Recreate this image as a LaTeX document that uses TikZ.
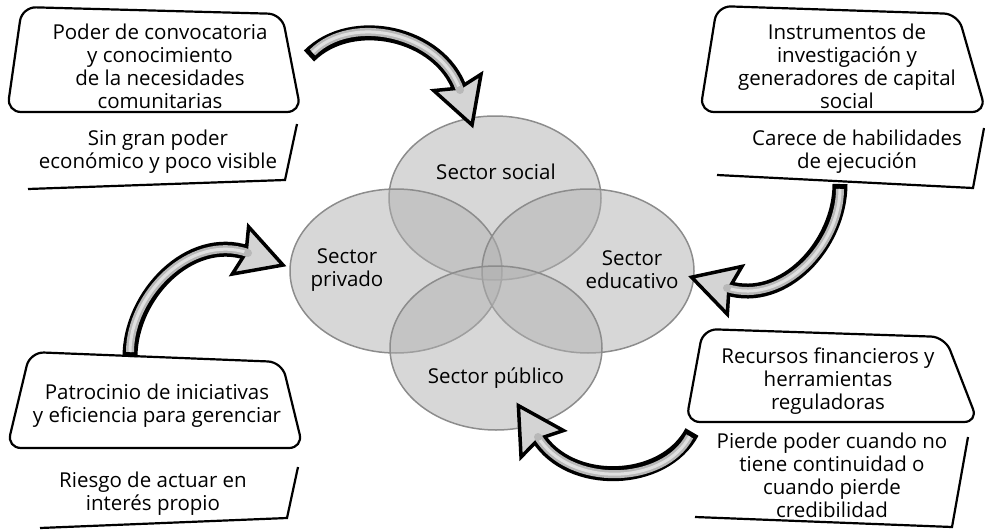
\documentclass[tikz,border=0pt]{standalone}
\usepackage{fontspec}
\setmainfont{Open Sans}
\usetikzlibrary{shapes.geometric}

% fat curved arrow: tail, out angle, in angle, end point, head direction
\newcommand\bigarrow[5]{%
  \draw[shaft] (#1) to[out=#2,in=#3] (#4);
  \begin{scope}[shift={(#4)},rotate=#5]
    \filldraw[arrowhead] (-8,25) -- (37,0) -- (-8,-25) -- (-2,0) -- cycle;
  \end{scope}
  \draw[shaft fill] (#1) to[out=#2,in=#3] (#4);
  \draw[shaft core] (#1) to[out=#2,in=#3] (#4);
  \fill[knob] (#4) circle (4);
}

\begin{document}
\begin{tikzpicture}[
  x=1pt, y=1pt,
  sector/.style = {ellipse, draw=black!45, line width=1.5pt, fill=black!31,
                   fill opacity=0.5, minimum width=212pt, minimum height=164pt},
  txt/.style = {align=center, inner sep=0pt, font=\fontsize{20.5}{23}\selectfont},
  tab/.style = {draw, line width=2.2pt, rounded corners=14pt},
  rule/.style = {draw, line width=2.2pt},
  shaft/.style = {line width=15pt, black},
  shaft fill/.style = {line width=8pt, black!28, shorten <=5pt},
  shaft core/.style = {line width=3pt, black!12, shorten <=5pt},
  arrowhead/.style = {fill=black!17, draw=black, line width=3.5pt},
  knob/.style = {fill=black!28},
  ]
  \useasboundingbox (0,0) rectangle (985,-530);

  % the four sectors
  \node[sector] (social)    at (495,-198) {};
  \node[sector] (privado)   at (396,-271) {};
  \node[sector] (educativo) at (588,-271) {};
  \node[sector] (publico)   at (496,-348) {};

  \node[txt] (tsocial)    at (496,-172) {Sector social};
  \node[txt] (tprivado)   at (347,-270) {Sector\\privado};
  \node[txt] (teducativo) at (632,-270) {Sector\\educativo};
  \node[txt] (tpublico)   at (496,-378) {Sector público};

  % strengths (tabs) and weaknesses (open corners)
  \draw[tab] (22,-7) -- (282,-14) -- (301,-112) -- (7,-112) -- cycle;
  \node[txt] (fsocial) at (160,-66)
    {Poder de convocatoria\\y conocimiento\\de la necesidades\\comunitarias};
  \draw[rule] (297,-124) -- (285,-180) -- (28,-189);
  \node[txt] (dsocial) at (158,-152) {Sin gran poder\\económico y poco visible};

  \draw[tab] (717,-6) -- (958,-14) -- (986,-112) -- (700,-112) -- cycle;
  \node[txt] (feducativo) at (847,-66)
    {Instrumentos de\\investigación y\\generadores de capital\\social};
  \draw[rule] (717,-175) -- (973,-188) -- (984,-128);
  \node[txt] (deducativo) at (857,-152) {Carece de habilidades\\de ejecución};

  \draw[tab] (30,-352) -- (282,-362) -- (303,-448) -- (7,-448) -- cycle;
  \node[txt] (fprivado) at (157,-406)
    {Patrocinio de iniciativas\\y eficiencia para gerenciar};
  \draw[rule] (298,-467) -- (287,-518) -- (40,-528);
  \node[txt] (dprivado) at (153,-494) {Riesgo de actuar en\\interés propio};

  \draw[tab] (703,-329) -- (945,-337) -- (978,-422) -- (686,-422) -- cycle;
  \node[txt] (fpublico) at (828,-381)
    {Recursos financieros y\\herramientas\\reguladoras};
  \draw[rule] (968,-437) -- (952,-527) -- (695,-517);
  \node[txt] (dpublico) at (832,-475)
    {Pierde poder cuando no\\tiene continuidad o\\cuando pierde\\credibilidad};

  % arrows into the sectors
  \coordinate (tail1) at (309,-56);  \coordinate (end1) at (460,-90);
  \coordinate (tail2) at (130,-357); \coordinate (end2) at (248,-253);
  \coordinate (tail3) at (840,-184); \coordinate (end3) at (727,-288);
  \coordinate (tail4) at (692,-432); \coordinate (end4) at (538,-437);

  \bigarrow{tail1}{45}{109}{end1}{-71}
  \bigarrow{tail2}{90}{161}{end2}{-19}
  \bigarrow{tail3}{-90}{-17}{end3}{163}
  \bigarrow{tail4}{-118}{-58}{end4}{122}
\end{tikzpicture}
\end{document}
